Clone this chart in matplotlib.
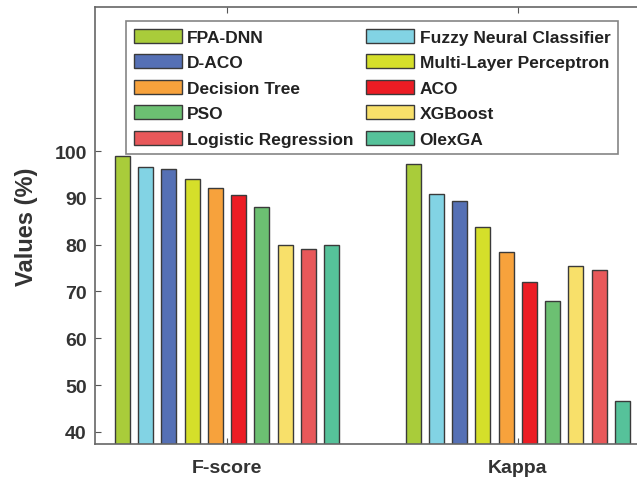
import numpy as np
import matplotlib.pyplot as plt
from matplotlib.patches import Patch

plt.rcParams['font.family'] = ['Liberation Sans', 'DejaVu Sans']
plt.rcParams['font.weight'] = 'bold'

metrics = ['F-score', 'Kappa']
methods = ['FPA-DNN', 'Fuzzy Neural Classifier', 'D-ACO', 'Multi-Layer Perceptron',
           'Decision Tree', 'ACO', 'PSO', 'XGBoost', 'Logistic Regression', 'OlexGA']
fscore = [98.9, 96.6, 96.1, 94.1, 92.1, 90.6, 88.0, 80.0, 79.0, 80.0]
kappa = [97.2, 90.8, 89.4, 83.8, 78.4, 72.1, 67.9, 75.4, 74.6, 46.6]
colors = ['#A9CC3A', '#82D3E4', '#5570B5', '#D5DF2A', '#F7A23C',
          '#EC1C24', '#6CC072', '#F8E06A', '#E8585A', '#56C29A']

values = np.array([fscore, kappa])

fig = plt.figure(figsize=(6.37, 4.81), dpi=100)
ax = fig.add_axes([95/637, 1-445/481, 1-95/637, (445-8)/481])

n = len(methods)
spacing = 0.08
width = 0.052
x = np.arange(1, len(metrics) + 1)
handles = []
for i in range(n):
    offs = (i - (n - 1) / 2) * spacing
    ax.bar(x + offs, values[:, i], width, color=colors[i], edgecolor='#3a3a3a', linewidth=1.0)
    handles.append(Patch(facecolor=colors[i], edgecolor='#3a3a3a', linewidth=1.0, label=methods[i]))

ax.set_xlim(0.546, 2.41)
ax.set_ylim(37.4, 130.8)
ax.set_yticks([40, 50, 60, 70, 80, 90, 100])
ax.set_xticks(x)
ax.set_xticklabels(metrics, fontsize=14, fontweight='bold', color='#333333')
ax.tick_params(axis='y', labelsize=14, labelcolor='#333333', direction='in', length=4, color='#555555', pad=6)
ax.tick_params(axis='x', direction='in', length=4, color='#555555', pad=11, top=True)
ax.set_ylabel('Values (%)', fontsize=17, fontweight='bold', color='#333333', labelpad=12)
for s in ['left', 'top', 'bottom']:
    ax.spines[s].set_color('#666666')
    ax.spines[s].set_linewidth(1.2)
ax.spines['right'].set_visible(False)

# legend is filled row by row in the original
order = [0, 2, 4, 6, 8, 1, 3, 5, 7, 9]
leg = fig.legend([handles[k] for k in order], [methods[k] for k in order],
                 ncol=2, loc='upper left', bbox_to_anchor=(126/637, 1-22/481),
                 prop={'weight': 'bold', 'size': 12.5}, frameon=True, fancybox=False,
                 edgecolor='#666666', handlelength=2.76, handleheight=0.85,
                 labelspacing=0.55, columnspacing=0.75, handletextpad=0.3,
                 borderpad=0.45, borderaxespad=0)
leg.get_frame().set_linewidth(1.2)
for t in leg.get_texts():
    t.set_color('#222222')

fig.savefig('out.png', dpi=100)
